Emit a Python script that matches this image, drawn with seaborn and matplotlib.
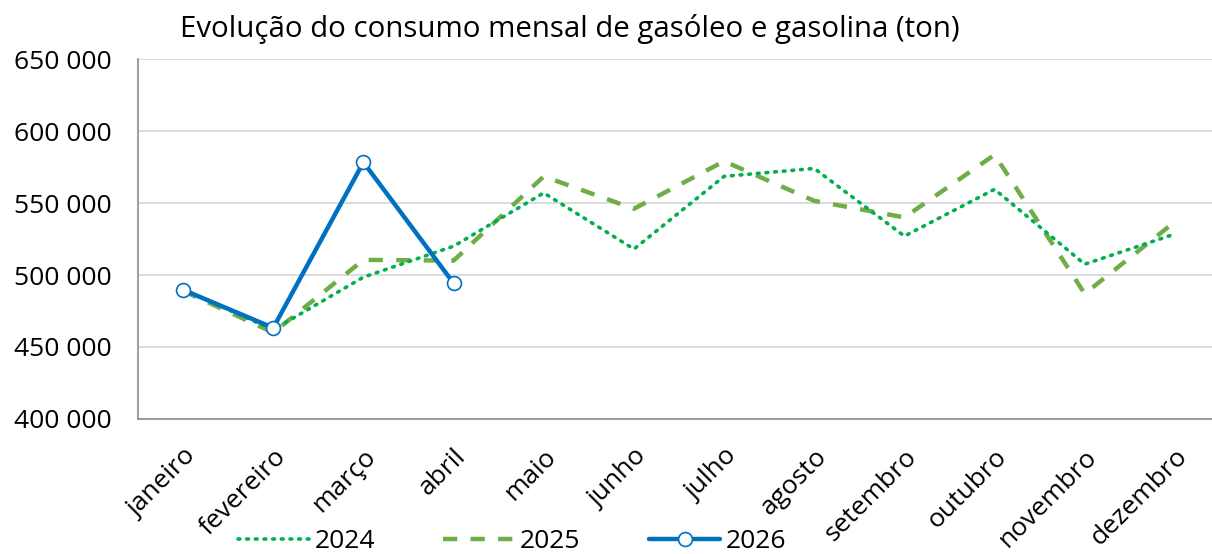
import matplotlib
matplotlib.use("Agg")
import matplotlib.pyplot as plt
from matplotlib.lines import Line2D
from matplotlib.ticker import FuncFormatter
import numpy as np
import pandas as pd
import seaborn as sns

months = ["janeiro", "fevereiro", "março", "abril", "maio", "junho",
          "julho", "agosto", "setembro", "outubro", "novembro", "dezembro"]
cons_2024 = [490000, 462000, 498500, 520000, 557000, 518000,
             568500, 574000, 527000, 559500, 507500, 528500]
cons_2025 = [489000, 460000, 510500, 510000, 568500, 546000,
             579000, 551500, 540000, 583500, 487000, 537000]
cons_2026 = [489700, 463300, 578300, 494300]

sns.set_style("white")
plt.rcParams["font.family"] = ["Open Sans", "DejaVu Sans"]
plt.rcParams["text.color"] = "#000000"

fig = plt.figure(figsize=(12.12, 5.54), dpi=100)
ax = fig.add_axes([138 / 1212, 1 - 419 / 554, 1082 / 1212, 360 / 554])

x_all = np.arange(len(months))
df24 = pd.DataFrame({"x": x_all, "y": cons_2024})
df25 = pd.DataFrame({"x": x_all, "y": cons_2025})
df26 = pd.DataFrame({"x": x_all[:len(cons_2026)], "y": cons_2026})

c24, c25, c26 = "#00B050", "#70AD47", "#0070C0"
ls24 = (0, (0.5, 1.9))
ls25 = (0, (3.2, 3.0))

sns.lineplot(data=df24, x="x", y="y", ax=ax, color=c24, linewidth=2.6,
             linestyle=ls24, dash_capstyle="round", zorder=3)
sns.lineplot(data=df25, x="x", y="y", ax=ax, color=c25, linewidth=3.2,
             linestyle=ls25, zorder=2)
sns.lineplot(data=df26, x="x", y="y", ax=ax, color=c26, linewidth=3.2,
             marker="o", markersize=10, markerfacecolor="white",
             markeredgecolor=c26, markeredgewidth=1.2, zorder=4)

ax.set_xlim(-0.5, 11.5)
ax.set_ylim(400000, 650000)
ax.set_yticks(np.arange(400000, 650001, 50000))
ax.yaxis.set_major_formatter(FuncFormatter(lambda v, p: f"{int(v):,}".replace(",", " ")))
ax.grid(axis="y", color="#D9D9D9", linewidth=1.3)
ax.set_axisbelow(True)

ax.set_xticks(x_all)
ax.set_xticklabels(months, rotation=45, ha="right", rotation_mode="anchor")
ax.set_xticks(np.arange(-0.5, 12, 1), minor=True)
ax.tick_params(axis="x", which="major", length=0, pad=18, labelsize=19, labelcolor="#000000")
ax.tick_params(axis="x", which="minor", length=7, width=1.2, color="#8C8C8C", direction="out")
ax.tick_params(axis="y", length=7, width=1.2, color="#8C8C8C", labelsize=19, pad=12,
               labelcolor="#000000")
ax.set_xlabel("")
ax.set_ylabel("")

for side in ["top", "right"]:
    ax.spines[side].set_visible(False)
for side in ["left", "bottom"]:
    ax.spines[side].set_color("#8C8C8C")
    ax.spines[side].set_linewidth(1.2)

fig.text(180 / 1212, 1 - 29 / 554, "Evolução do consumo mensal de gasóleo e gasolina (ton)",
         fontsize=21.2, va="center", ha="left", color="#000000")

handles = [
    Line2D([], [], color=c24, linewidth=2.6, linestyle=ls24, dash_capstyle="round"),
    Line2D([], [], color=c25, linewidth=3.2, linestyle=ls25),
    Line2D([], [], color=c26, linewidth=3.2, marker="o", markersize=10,
           markerfacecolor="white", markeredgecolor=c26, markeredgewidth=1.2),
]
leg = fig.legend(handles, ["2024", "2025", "2026"], loc="center", ncol=3,
                 bbox_to_anchor=(512 / 1212, 1 - 542 / 554), frameon=False,
                 fontsize=19, handlelength=2.7, handletextpad=0.2, columnspacing=2.6,
                 borderpad=0)
for t in leg.get_texts():
    t.set_color("#000000")

fig.savefig("out.png", dpi=100)
